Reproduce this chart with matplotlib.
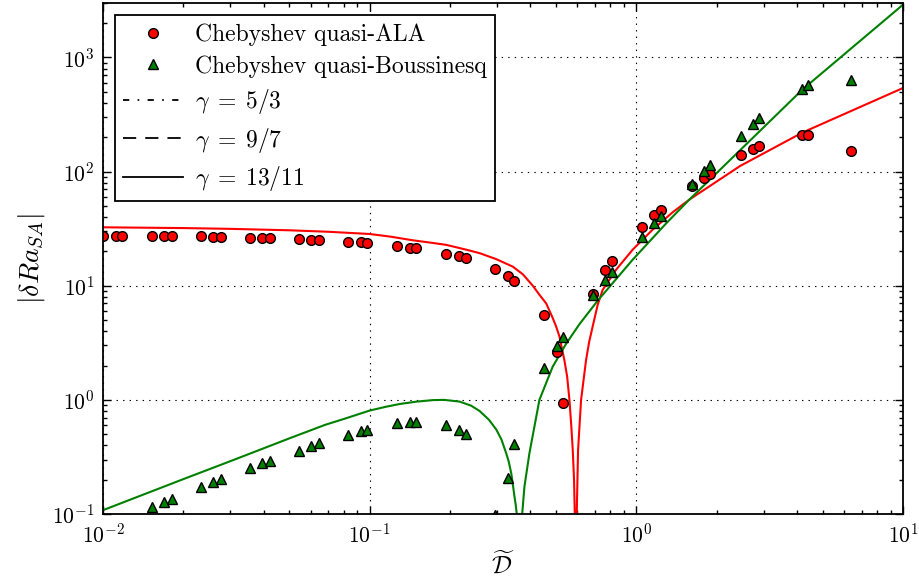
import numpy as np
import matplotlib
matplotlib.use("Agg")
import matplotlib.pyplot as plt
from matplotlib.lines import Line2D

plt.rcParams['font.family'] = ['cmr10', 'DejaVu Serif']
plt.rcParams['mathtext.fontset'] = 'cm'
plt.rcParams['axes.formatter.use_mathtext'] = True
plt.rcParams['lines.scale_dashes'] = False

# data points
ala_x = [0.0100, 0.01115, 0.01181, 0.01531, 0.01697, 0.01808, 0.02328, 0.0259, 0.02759,
         0.03553, 0.03963, 0.04222, 0.05437, 0.06047, 0.06442, 0.08296, 0.09254, 0.0980,
         0.1266, 0.1412, 0.1496, 0.1938, 0.2161, 0.2289, 0.2958, 0.3296, 0.3492, 0.4496,
         0.5029, 0.533, 0.686, 0.7652, 0.811, 1.05, 1.168, 1.24, 1.612, 1.788, 1.894,
         2.459, 2.727, 2.896, 4.175, 4.42, 6.387]
ala_y = [27.5, 27.5, 27.5, 27.5, 27.1, 27.1, 27.1, 26.7, 26.7,
         26.4, 26.2, 26.0, 25.7, 25.3, 25.3, 24.3, 24.0, 23.7,
         22.1, 21.5, 21.2, 19.1, 18.1, 17.4, 14.0, 12.2, 11.1, 5.57,
         2.65, 0.936, 8.51, 13.6, 16.5, 32.7, 41.4, 46.4, 75.4, 88.0, 96.0,
         140, 158, 169, 211, 211, 153]

bou_x = [0.01531, 0.01697, 0.01808, 0.02328, 0.0259, 0.02759, 0.03553, 0.03963, 0.04222,
         0.05437, 0.06047, 0.06442, 0.08296, 0.09254, 0.0980, 0.1266, 0.1412, 0.1496,
         0.1938, 0.2161, 0.2289, 0.2958, 0.3296, 0.3492, 0.4496, 0.5029, 0.533, 0.686,
         0.7652, 0.811, 1.05, 1.168, 1.24, 1.612, 1.788, 1.894, 2.459, 2.727, 2.896,
         4.175, 4.42, 6.387]
bou_y = [0.116, 0.127, 0.136, 0.171, 0.191, 0.201, 0.253, 0.278, 0.294,
         0.359, 0.395, 0.417, 0.493, 0.535, 0.545, 0.624, 0.637, 0.641,
         0.603, 0.545, 0.503, 0.098, 0.208, 0.411, 1.897, 2.94, 3.59, 8.22,
         11.29, 13.3, 26.7, 35.5, 40.5, 77.4, 100.7, 115, 207, 262, 294,
         524, 568, 632]

# gamma = 13/11 curves
ala_line_x = [0.01, 0.02, 0.03, 0.05, 0.07, 0.1, 0.12, 0.1453, 0.1726, 0.1938, 0.2301,
              0.2582, 0.2983, 0.3441, 0.3752, 0.409, 0.4331, 0.4591, 0.486, 0.5002, 0.5147,
              0.537, 0.5502, 0.5612, 0.57, 0.5775, 0.584, 0.5877, 0.5886, 0.5895, 0.5977,
              0.6047, 0.6206, 0.648, 0.665, 0.686, 0.7162, 0.7477, 0.8395, 0.9688, 1.151,
              1.368, 1.58, 2.45, 4.2, 10.0]
ala_line_y = [32.5, 32.0, 31.5, 30.6, 29.7, 28.4, 26.9, 25.0, 23.7, 22.8, 20.7,
              19.3, 17.1, 14.7, 12.6, 10.0, 8.34, 7.0, 5.2, 4.4, 3.6,
              2.24, 1.6, 1.0, 0.6, 0.364, 0.2, 0.1, 0.01, 0.01, 0.1,
              0.364, 1.0, 2.24, 3.2, 4.4, 6.8, 9.2, 13.8, 20.7, 31.0,
              44.0, 56.8, 112, 220, 540]

bou_line_x = [0.01, 0.02, 0.03, 0.05, 0.0679, 0.08, 0.1, 0.115, 0.1296, 0.15, 0.1726,
              0.19, 0.2173, 0.24, 0.2582, 0.28, 0.2983, 0.312, 0.3251, 0.332, 0.3395,
              0.3445, 0.3492, 0.353, 0.3562, 0.36, 0.37, 0.3732, 0.3806, 0.3972, 0.4331,
              0.486, 0.5452, 0.6117, 0.7162, 0.9688, 1.291, 1.58, 4.2, 10.0]
bou_line_y = [0.108, 0.202, 0.29, 0.46, 0.603, 0.68, 0.806, 0.87, 0.92, 0.965, 0.995,
              1.0, 0.966, 0.89, 0.80, 0.67, 0.55, 0.45, 0.34, 0.29, 0.2275,
              0.18, 0.142, 0.12, 0.1, 0.02, 0.02, 0.1, 0.174, 0.34, 1.0,
              1.96, 3.1, 4.6, 7.4, 16.9, 35.0, 56.8, 524, 2900]

fig = plt.figure(figsize=(9.2, 5.81), dpi=100)
ax = fig.add_axes([103/920, 67/581, 800/920, 511/581])

ax.plot(ala_line_x, ala_line_y, color='r', lw=1.5)
ax.plot(bou_line_x, bou_line_y, color=(0, 0.5, 0), lw=1.5)
ax.plot(ala_x, ala_y, 'o', color='r', mec='k', mew=1, ms=7)
ax.plot(bou_x, bou_y, '^', color=(0, 0.5, 0), mec='k', mew=1, ms=7.5)

ax.set_xscale('log')
ax.set_yscale('log')
ax.set_xlim(1e-2, 1e1)
ax.set_ylim(1e-1, 3e3)
ax.grid(True, which='major', color='k', linestyle=(0, (1, 3.7)), lw=0.8)

ax.tick_params(which='both', direction='in', top=True, right=True, labelsize=15.5, width=1)
ax.tick_params(which='major', length=6, pad=6)
ax.tick_params(which='minor', length=3)
for s in ax.spines.values():
    s.set_linewidth(1.3)

ax.set_xlabel(r'$\widetilde{\mathcal{D}}$', fontsize=18)
ax.set_ylabel(r'$|\delta Ra_{SA}|$', fontsize=20)

handles = [
    Line2D([], [], ls='none', marker='o', color='r', mec='k', mew=1, ms=7),
    Line2D([], [], ls='none', marker='^', color=(0, 0.5, 0), mec='k', mew=1, ms=7.5),
    Line2D([], [], color='k', lw=1.3, dashes=(4.5, 6, 1.2, 6)),
    Line2D([], [], color='k', lw=1.3, dashes=(9.5, 6.5)),
    Line2D([], [], color='k', lw=1.3),
]
labels = ['Chebyshev quasi-ALA', 'Chebyshev quasi-Boussinesq',
          r'$\gamma\;=\;5/3$', r'$\gamma\;=\;9/7$', r'$\gamma\;=\;13/11$']
leg = ax.legend(handles, labels, loc='upper left', bbox_to_anchor=(0.015, 0.9765),
                borderaxespad=0, fontsize=17, numpoints=1, handlelength=2.55,
                handletextpad=0.5, borderpad=0.35, fancybox=False, framealpha=1,
                edgecolor='k', labelspacing=0.4)
leg.get_frame().set_linewidth(1.3)

fig.savefig('out.png', dpi=100)
